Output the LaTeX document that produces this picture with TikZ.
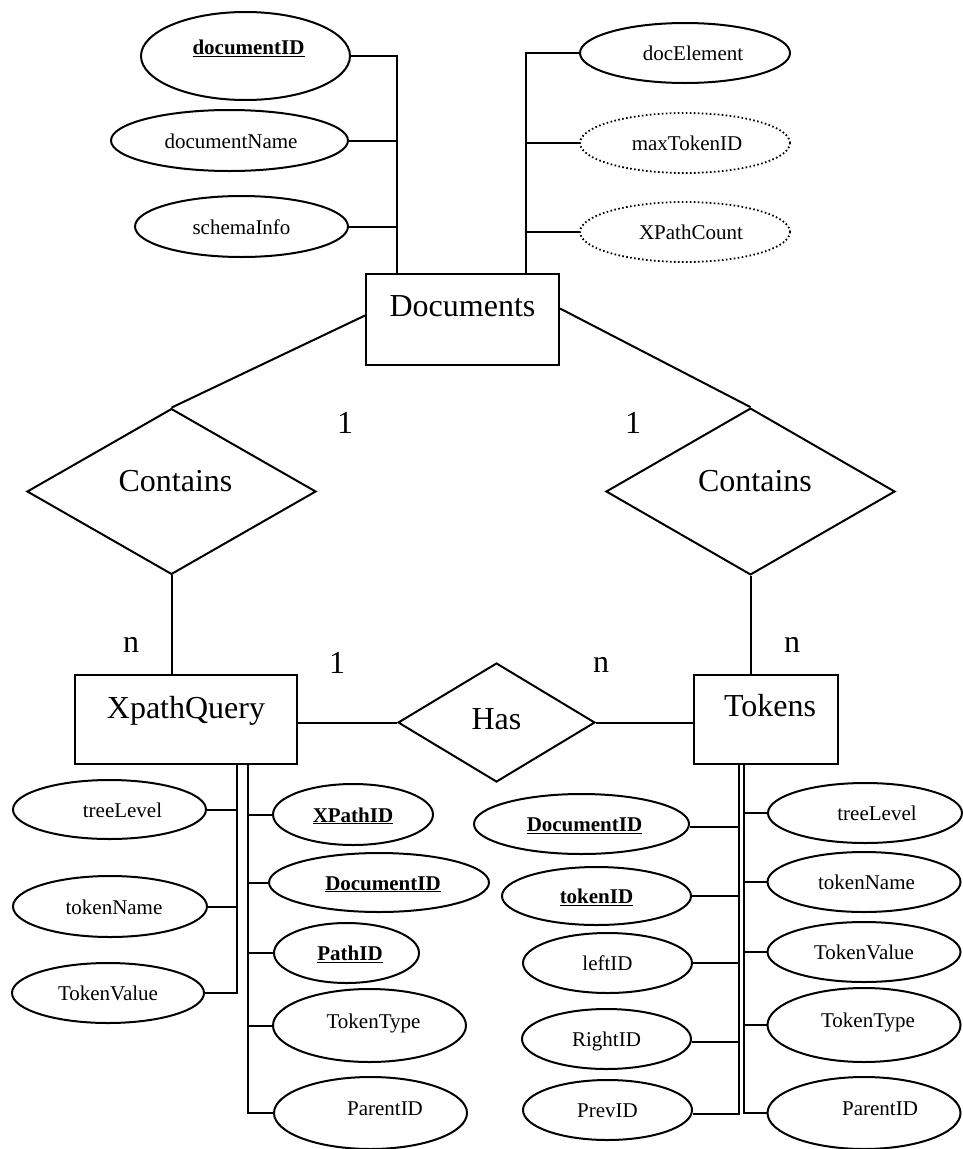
\documentclass[tikz,border=0pt]{standalone}
\usepackage{fontspec}
\setmainfont{Liberation Serif}
\usetikzlibrary{shapes.geometric}
\newcommand{\attrsize}{\fontsize{21}{25}\selectfont}
\newcommand{\entsize}{\fontsize{32}{38}\selectfont}
\newcommand{\keyattr}[1]{\underline{\textbf{#1}}}
\tikzset{
  conn/.style={line width=2pt},
  attr/.style={ellipse, draw, line width=2pt, inner sep=0pt, font=\attrsize, text height=15pt, text depth=0pt},
  derived/.style={attr, dash pattern=on 1.6pt off 2.4pt, line width=1.8pt},
  entity/.style={rectangle, draw, line width=2pt, inner sep=0pt, font=\entsize, text height=22pt},
  rel/.style={diamond, draw, line width=2pt, inner sep=0pt, font=\entsize, text height=22pt},
  card/.style={inner sep=0pt, font=\entsize}
}
\begin{document}
\begin{tikzpicture}[x=1pt,y=-1pt]
\useasboundingbox (0,0) rectangle (963,1149);

% entities
\node[entity, minimum width=193pt, minimum height=91pt, text depth=28pt] (Doc) at (462.5,319.5) {Documents};
\node[entity, minimum width=222pt, minimum height=89pt, text depth=24pt] (XQ) at (186,719.5) {XpathQuery};
\node[entity, minimum width=144pt, minimum height=89pt, text depth=29pt] (Tok) at (766,719.5) {\hspace*{8pt}Tokens};

% relationships
\node[rel, minimum width=289pt, minimum height=149pt, text depth=22pt] (CL) at (171.5,491.5) {\hspace*{8pt}Contains};
\node[rel, minimum width=289pt, minimum height=149pt, text depth=22pt] (CR) at (750.5,491.5) {\hspace*{9pt}Contains};
\node[rel, minimum width=197pt, minimum height=119pt, text depth=8pt] (Has) at (496.5,722.5) {Has};

% cardinalities
\node[card] (c1) at (345,423) {1};
\node[card] (c2) at (633,423) {1};
\node[card] (c3) at (131,645) {n};
\node[card] (c4) at (337,663) {1};
\node[card] (c5) at (601,665) {n};
\node[card] (c6) at (792,645) {n};

% Documents attributes
\node[attr, minimum width=209pt, minimum height=88pt, text depth=18pt] (dID) at (245.5,56) {\hspace*{6pt}\keyattr{documentID}};
\node[attr, minimum width=237pt, minimum height=61pt] (dName) at (229.5,140.5) {\hspace*{3pt}documentName};
\node[attr, minimum width=213pt, minimum height=61pt] (schema) at (241.5,226.5) {schemaInfo};
\node[attr, minimum width=210pt, minimum height=60pt] (docEl) at (685,53) {\hspace*{16pt}docElement};
\node[derived, minimum width=210pt, minimum height=60pt] (maxT) at (685,143) {\hspace*{4pt}maxTokenID};
\node[derived, minimum width=210pt, minimum height=60pt] (xpc) at (685,232) {\hspace*{12pt}XPathCount};

% XpathQuery attributes
\node[attr, minimum width=193pt, minimum height=59pt] (tlX) at (109.5,809.5) {\hspace*{26pt}treeLevel};
\node[attr, minimum width=194pt, minimum height=61pt] (tnX) at (110,906.5) {\hspace*{8pt}tokenName};
\node[attr, minimum width=192pt, minimum height=60pt] (tvX) at (108,993) {TokenValue};
\node[attr, minimum width=160pt, minimum height=61pt] (xpid) at (353,814.5) {\keyattr{XPathID}};
\node[attr, minimum width=220pt, minimum height=59pt] (didX) at (379,882.5) {\hspace*{8pt}\keyattr{DocumentID}};
\node[attr, minimum width=145pt, minimum height=60pt] (pathid) at (346.5,953) {\hspace*{7pt}\keyattr{PathID}};
\node[attr, minimum width=193pt, minimum height=73pt, text depth=10pt] (ttX) at (369.5,1025.5) {\hspace*{8pt}TokenType};
\node[attr, minimum width=193pt, minimum height=72pt, text depth=10pt] (pidX) at (370.5,1113) {\hspace*{29pt}ParentID};

% Tokens attributes
\node[attr, minimum width=215pt, minimum height=60pt] (didT) at (581.5,824) {\hspace*{6pt}\keyattr{DocumentID}};
\node[attr, minimum width=189pt, minimum height=58pt] (tokID) at (596.5,896) {\keyattr{tokenID}};
\node[attr, minimum width=169pt, minimum height=60pt] (leftID) at (607.5,963) {leftID};
\node[attr, minimum width=169pt, minimum height=60pt] (rightID) at (606.5,1039) {RightID};
\node[attr, minimum width=169pt, minimum height=60pt] (prev) at (607.5,1110) {PrevID};
\node[attr, minimum width=194pt, minimum height=60pt] (tlT) at (865,813) {\hspace*{24pt}treeLevel};
\node[attr, minimum width=193pt, minimum height=60pt] (tnT) at (864,882) {\hspace*{5pt}tokenName};
\node[attr, minimum width=193pt, minimum height=60pt] (tvT) at (864,952) {TokenValue};
\node[attr, minimum width=193pt, minimum height=74pt, text depth=10pt] (ttT) at (864,1025) {\hspace*{8pt}TokenType};
\node[attr, minimum width=193pt, minimum height=72pt, text depth=10pt] (pidT) at (864,1113) {\hspace*{32pt}ParentID};

% bus coordinates
\coordinate (busL) at (397,274);
\coordinate (busR) at (526,274);
\coordinate (xqL) at (237,764);
\coordinate (xqR) at (248,764);
\coordinate (tkL) at (738.5,764);
\coordinate (tkR) at (743.5,764);

% Documents attribute connectors
\draw[conn] (busL) |- (dID.east);
\draw[conn] (dName.east) -- (dName.east -| busL);
\draw[conn] (schema.east) -- (schema.east -| busL);
\draw[conn] (busR) |- (docEl.west);
\draw[conn] (maxT.west) -- (maxT.west -| busR);
\draw[conn] (xpc.west) -- (xpc.west -| busR);

% relationship connectors
\draw[conn] ([yshift=4pt]Doc.west) -- (CL.north);
\draw[conn] ([yshift=11pt]Doc.east) -- (CR.north);
\draw[conn] (CL.south) -- (CL.south |- XQ.north);
\draw[conn] (CR.south) -- (CR.south |- Tok.north);
\draw[conn] (Has.west) -- (Has.west -| XQ.east);
\draw[conn] (Has.east) -- (Has.east -| Tok.west);

% XpathQuery attribute connectors
\draw[conn] (xqL) |- (tvX.east);
\draw[conn] (tlX.east) -- (tlX.east -| xqL);
\draw[conn] (tnX.east) -- (tnX.east -| xqL);
\draw[conn] (xqR) |- (pidX.west);
\draw[conn] (xpid.west) -- (xpid.west -| xqR);
\draw[conn] (didX.west) -- (didX.west -| xqR);
\draw[conn] (pathid.west) -- (pathid.west -| xqR);
\draw[conn] (ttX.west) -- (ttX.west -| xqR);

% Tokens attribute connectors
\draw[conn] (tkL) |- ([yshift=-4pt]prev.east);
\draw[conn] ([yshift=-3pt]didT.east) -- ([yshift=-3pt]didT.east -| tkL);
\draw[conn] (tokID.east) -- (tokID.east -| tkL);
\draw[conn] (leftID.east) -- (leftID.east -| tkL);
\draw[conn] ([yshift=-3pt]rightID.east) -- ([yshift=-3pt]rightID.east -| tkL);
\draw[conn] (tkR) |- (pidT.west);
\draw[conn] (tlT.west) -- (tlT.west -| tkR);
\draw[conn] (tnT.west) -- (tnT.west -| tkR);
\draw[conn] (tvT.west) -- (tvT.west -| tkR);
\draw[conn] (ttT.west) -- (ttT.west -| tkR);
\end{tikzpicture}
\end{document}
